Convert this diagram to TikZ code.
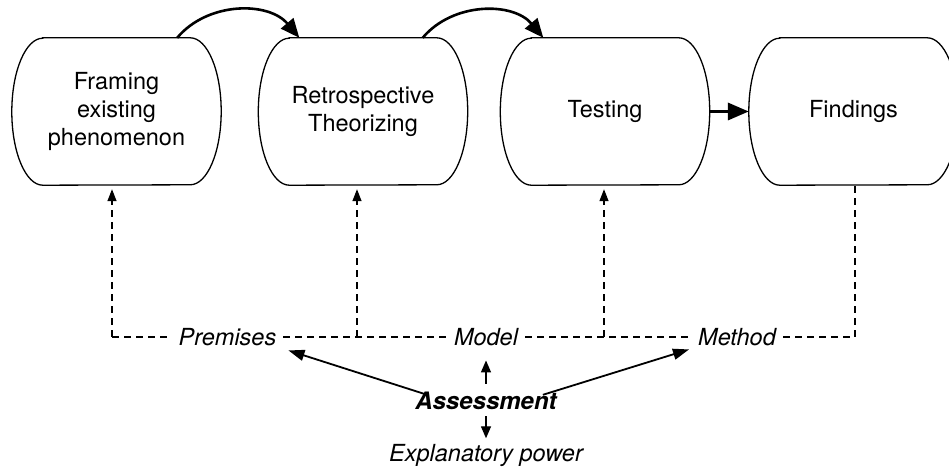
\documentclass[tikz,border=0pt]{standalone}
\usepackage{fontspec}
\setmainfont{TeX Gyre Heros}
\usetikzlibrary{arrows.meta}
\begin{document}
\begin{tikzpicture}[x=1pt,y=1pt,
  boxtext/.style={minimum width=209pt,minimum height=147pt,inner sep=0pt,align=center,
    font=\fontsize{23.5}{28}\selectfont},
  outline/.style={line width=1.3pt},
  lbl/.style={font=\fontsize{23.5}{28}\selectfont\itshape,inner xsep=7pt,inner ysep=2pt,
    text height=16.5pt,text depth=0pt},
  dashln/.style={line width=1.3pt,dash pattern=on 7pt off 5pt},
  uparr/.style={dashln,-{Triangle[length=12pt,width=9pt]},shorten >=4pt},
  curvearr/.style={line width=2.6pt,-{Triangle[length=19pt,width=16pt]}},
  straightarr/.style={line width=3.4pt,-{Triangle[length=21pt,width=17pt]}},
  diagarr/.style={line width=1.8pt,-{Triangle[length=16pt,width=11pt]}},
  smallarr/.style={line width=1.4pt,-{Triangle[length=12pt,width=10pt]}}
]
\useasboundingbox (0,0) rectangle (949,468);

% boxes
\node[boxtext] (b1) at (116.5,356.5) {Framing\\existing\\phenomenon};
\node[boxtext] (b2) at (363,356.5) {Retrospective\\Theorizing};
\node[boxtext] (b3) at (605,356.5) {Testing};
\node[boxtext] (b4) at (853.5,356.5) {Findings};

\foreach \n in {b1,b2,b3,b4}{
  \draw[outline] ([xshift=31pt]\n.north west) -- ([xshift=-31pt]\n.north east)
    arc[start angle=90,end angle=-90,x radius=31pt,y radius=73.5pt]
    -- ([xshift=31pt]\n.south west)
    arc[start angle=270,end angle=90,x radius=31pt,y radius=73.5pt] -- cycle;
}

% top arrows
\draw[curvearr] ([xshift=-44pt]b1.north east) to[bend left=50] ([xshift=41pt]b2.north west);
\draw[curvearr] ([xshift=-45pt]b2.north east) to[bend left=50] ([xshift=43pt]b3.north west);
\draw[straightarr] (b3.east) -- (b4.west);

% labels
\node[lbl] (prem) at (227.5,131) {Premises};
\node[lbl] (model) at (486,131) {Model};
\node[lbl] (meth) at (737,131) {Method};

\coordinate (j1) at (112,131);
\coordinate (j2) at (357,131);
\coordinate (j3) at (604,131);
\coordinate (j4) at (855,131);

\draw[dashln] (j1) -- (prem.west);
\draw[dashln] (prem.east) -- (model.west);
\draw[dashln] (model.east) -- (meth.west);
\draw[dashln] (meth.east) -- (j4);

\draw[uparr] (j1) -- (j1 |- b1.south);
\draw[uparr] (j2) -- (j2 |- b2.south);
\draw[uparr] (j3) -- (j3 |- b3.south);
\draw[dashln] (j4) -- (j4 |- b4.south);

% assessment
\node[font=\fontsize{24}{28}\selectfont\bfseries\itshape,inner sep=4pt,text height=17pt,text depth=0pt,anchor=base]
  (assess) at (486,58) {Assessment};
\node[font=\fontsize{23.5}{28}\selectfont\itshape,inner sep=4pt,text height=17pt,text depth=5pt,anchor=base]
  (expl) at (486,6.5) {Explanatory power};

\draw[smallarr,shorten <=5pt,shorten >=13pt] (assess.north) -- (model.south);
\draw[smallarr,shorten <=2pt,shorten >=2pt] (assess.south) -- (expl.north);

\draw[diagarr] ([shift={(16pt,-6pt)}]assess.north west) -- ([shift={(5pt,-3pt)}]prem.south east);
\draw[diagarr] ([shift={(-18pt,-6pt)}]assess.north east) -- ([shift={(-2pt,-2pt)}]meth.south west);
\end{tikzpicture}
\end{document}
